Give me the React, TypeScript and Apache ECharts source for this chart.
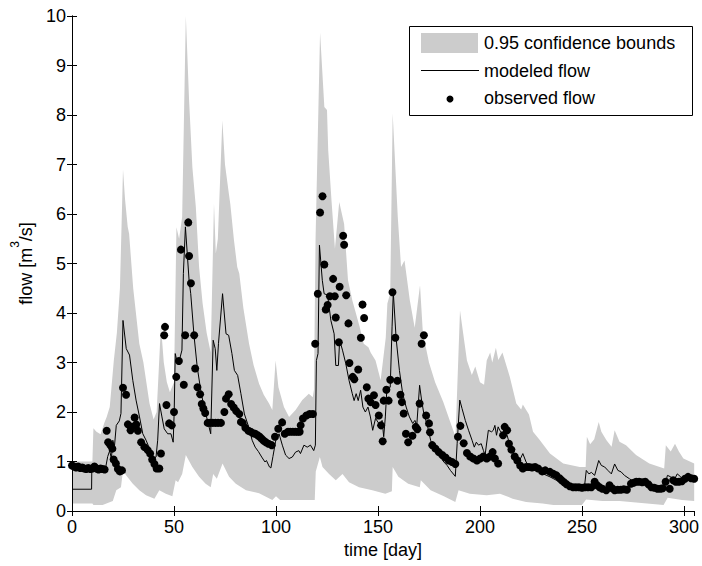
import React, { useEffect, useRef } from 'react';
import * as echarts from 'echarts';

const FONT = '"Liberation Sans", Arial, sans-serif';

const xAxisTicks = [0, 50, 100, 150, 200, 250, 300];
const yAxisTicks = [0, 1, 2, 3, 4, 5, 6, 7, 8, 9, 10];

const legendLabels = ['0.95 confidence bounds', 'modeled flow', 'observed flow'];

// upper 0.95 confidence bound [day, flow]
const upperBound: number[][] = [
  [0, 1.0], [10, 1.0], [10.5, 1.67], [12, 1.6], [14, 1.55], [16, 1.8], [17, 1.9], [18.5, 2.1], [20.5, 3.04],
  [22, 3.6], [23.5, 4.5], [25, 6.9], [26, 6.3], [27.3, 5.74], [28, 5.6], [30, 4.5], [33, 3.38], [35, 3.0],
  [38, 2.17], [40, 1.85], [41.5, 2.0], [43.6, 3.75], [45, 3.0], [46.5, 2.6], [48, 2.4], [50, 2.6], [51.2, 5.73],
  [52.5, 5.5], [54, 5.94], [55.8, 10.0], [57.4, 8.3], [59, 6.95], [60.7, 6.14], [62.3, 4.93], [64, 4.2],
  [66, 3.6], [68, 3.2], [69.6, 6.21], [70.5, 5.2], [71.5, 5.5], [73.7, 7.89], [75, 7.0], [76.9, 6.41],
  [77.6, 6.2], [79.4, 5.47], [81, 4.93], [82, 4.8], [84, 4.1], [86.8, 3.38], [89, 2.95], [91.7, 2.57],
  [94, 2.35], [96.6, 2.17], [98.2, 2.04], [99.8, 3.04], [101.2, 2.5], [103.9, 2.1], [106.4, 1.9],
  [109.6, 2.04], [112.9, 2.24], [116.1, 2.37], [118, 2.3], [118.6, 2.45], [119.4, 5.5], [121.6, 9.66],
  [123.7, 8.16], [125, 8.1], [125.6, 7.29], [127.2, 6.28], [128.9, 5.3], [131, 6.24], [133.4, 5.8],
  [135.3, 4.66], [137.4, 4.26], [139.2, 3.99], [141, 3.72], [143, 3.38], [145.3, 3.31], [146.4, 3.2],
  [148.8, 3.04], [151.3, 2.64], [153.8, 3.5], [154.6, 4.19], [156, 4.4], [157.2, 8.03], [159.7, 5.94],
  [161.3, 4.93], [163, 5.06], [165.6, 4.26], [168, 3.7], [170.6, 4.56], [172, 3.6], [175, 3.0], [178, 2.6],
  [182, 2.2], [185, 1.85], [188, 1.5], [190.2, 4.05], [193.6, 3.04], [196, 2.75], [197.7, 2.92], [200, 2.6],
  [202, 2.55], [203.3, 3.04], [205, 3.2], [206, 3.0], [207.8, 3.3], [209, 3.05], [211, 3.2], [214.6, 2.71],
  [217.8, 2.17], [220.2, 2.05], [221, 2.15], [224, 1.95], [226, 1.6], [229, 1.45], [234.3, 1.16],
  [240.8, 0.96], [248.9, 0.89], [251.8, 0.89], [252.4, 1.5], [254, 1.35], [256, 1.45], [258.2, 1.8],
  [259.5, 1.6], [262, 1.43], [264.5, 1.3], [266, 1.63], [268.4, 1.4], [271.6, 1.33], [276.5, 1.13],
  [283, 0.96], [290.3, 0.86], [291.1, 1.33], [293.5, 1.2], [295.6, 1.36], [297.5, 1.2], [299.7, 1.06],
  [305, 0.96],
];

// lower 0.95 confidence bound [day, flow]
const lowerBound: number[][] = [
  [0, 0.15], [10, 0.15], [10.5, 0.12], [15, 0.12], [20, 0.2], [21.7, 0.42], [24, 0.48], [25, 0.82],
  [26.5, 0.72], [29.8, 0.55], [33, 0.42], [36.3, 0.32], [40.4, 0.25], [42.8, 0.42], [46, 0.35], [49.2, 0.3],
  [50.8, 0.62], [52, 0.58], [54, 0.75], [55.8, 1.13], [59, 0.89], [62.3, 0.69], [65.5, 0.55], [68, 0.48],
  [69.2, 0.75], [71, 0.65], [73.8, 0.96], [77, 0.69], [80.3, 0.55], [85.3, 0.42], [91.7, 0.36], [98.2, 0.22],
  [100, 0.3], [102, 0.22], [108, 0.22], [119, 0.22], [119.5, 0.8], [121.5, 1.09], [122.8, 0.89], [126, 0.75],
  [129.3, 0.62], [132.6, 0.75], [135.8, 0.58], [140.7, 0.48], [147.2, 0.42], [153.6, 0.35], [156.8, 0.4],
  [157.2, 0.89], [160, 0.69], [164.8, 0.55], [170.5, 0.48], [171, 0.62], [175.8, 0.42], [182.3, 0.3],
  [187.9, 0.18], [189.5, 0.42], [195, 0.35], [203.3, 0.32], [209.8, 0.35], [216, 0.25], [222.6, 0.18],
  [230.7, 0.15], [236, 0.12], [250, 0.12], [252, 0.23], [260, 0.2], [268.4, 0.2], [276.5, 0.17], [290, 0.12],
  [292, 0.27], [299, 0.22], [305, 0.2],
];

// modeled flow [day, flow]
const modeledFlow: number[][] = [
  [0, 0.44], [9.6, 0.44], [9.7, 0.81], [11, 0.85], [13, 0.87], [15, 0.86], [16.5, 0.88], [17.5, 1.1],
  [18.5, 1.22], [19.3, 1.05], [20, 1.43], [20.8, 1.3], [21.7, 1.73], [23.2, 1.82], [24, 1.97], [25, 3.85],
  [26.6, 3.28], [28.2, 3.15], [29.8, 2.64], [31.4, 2.24], [33.1, 1.9], [34.7, 1.56], [36.3, 1.43], [38, 1.26],
  [39.6, 1.06], [41.2, 1.09], [42, 1.43], [42.9, 2.17], [44.1, 1.9], [45.2, 1.66], [46.9, 1.56], [48.5, 1.56],
  [49.6, 1.39], [50.1, 2.0], [50.6, 3.18], [51.7, 2.98], [52.6, 3.04], [53.9, 3.25], [54.6, 4.8], [55.6, 5.74],
  [57.4, 4.66], [58.2, 4.39], [59.8, 3.55], [61.4, 2.9], [63.1, 2.44], [64.7, 2.1], [66.4, 1.83], [68, 1.56],
  [69.2, 3.45], [70.2, 3.28], [71, 2.84], [71.8, 3.38], [73.8, 4.39], [75.5, 3.58], [76.8, 3.55], [78.4, 3.18],
  [79.6, 2.84], [81.2, 2.74], [82.8, 2.37], [84.5, 1.96], [86.6, 1.7], [88.3, 1.43], [89.8, 1.29], [91.4, 1.2],
  [93, 1.09], [94.6, 0.99], [95.3, 1.02], [96.8, 0.89], [97.5, 0.87], [98.5, 1.1], [99.9, 1.43], [101.5, 1.56],
  [103.1, 1.33], [104.7, 1.13], [106.4, 1.06], [108, 1.09], [109.6, 1.19], [111.2, 1.22], [112, 1.16],
  [113.7, 1.33], [115.3, 1.29], [116.9, 1.33], [118.5, 1.22], [119.3, 1.33], [119.8, 3.04], [120.6, 3.18],
  [121.3, 5.37], [122.7, 4.66], [123.6, 4.39], [125.3, 4.36], [126.9, 3.85], [128.5, 3.58], [129.3, 2.94],
  [130.6, 2.94], [131.2, 3.45], [132.6, 3.25], [134.2, 2.98], [135.8, 2.64], [137.4, 2.37], [138.3, 2.23],
  [139.3, 2.37], [140.3, 2.23], [141.5, 2.44], [142.6, 2.1], [143.8, 2.0], [145.1, 2.1], [146.3, 1.9],
  [147.4, 1.63], [148.8, 1.87], [150.4, 1.77], [151.2, 1.7], [152, 1.83], [152.8, 1.5], [153.6, 1.9],
  [154.4, 2.5], [156, 2.5], [156.9, 3.72], [157.5, 4.42], [158.9, 3.48], [160.5, 2.84], [162.1, 2.37],
  [163.8, 2.1], [165.4, 1.9], [167, 1.77], [168.1, 1.83], [169, 1.73], [170.4, 2.54], [171.4, 2.23],
  [172.5, 1.96], [174.2, 1.73], [175.8, 1.43], [177.4, 1.22], [179, 1.16], [180.7, 1.08], [182.3, 0.99],
  [183.9, 0.92], [185.5, 0.82], [187.9, 0.7], [188.8, 1.36], [190.1, 2.24], [191.2, 2.07], [192.8, 1.83],
  [194.4, 1.63], [196.1, 1.43], [197.2, 1.29], [198.2, 1.39], [199.3, 1.33], [200.6, 1.36], [201.7, 1.22],
  [202.5, 1.13], [204.1, 1.63], [205.7, 1.6], [206.5, 1.63], [207.3, 1.73], [208.1, 1.53], [208.9, 1.7],
  [209.7, 1.63], [211, 1.56], [212.1, 1.66], [213.3, 1.53], [214.6, 1.33], [216.2, 1.19], [217.8, 1.09],
  [219.4, 1.02], [221, 1.16], [222.6, 0.99], [224.3, 0.89], [227.5, 0.82], [231, 0.75], [234.3, 0.69],
  [237.5, 0.62], [240.8, 0.57], [244, 0.52], [251.3, 0.52], [252.1, 0.82], [253.4, 0.75], [254.6, 0.78],
  [256.2, 0.72], [258.2, 1.02], [259.5, 0.92], [261.1, 0.89], [262.7, 0.82], [264.4, 0.75], [266, 0.95],
  [267.6, 0.82], [269.2, 0.79], [270.8, 0.72], [273.3, 0.65], [275.7, 0.59], [279.7, 0.55], [284.6, 0.5],
  [290.3, 0.48], [291.9, 0.72], [293.5, 0.69], [295.1, 0.62], [296.7, 0.75], [298.4, 0.69], [300, 0.62],
  [302.4, 0.69], [304.9, 0.62],
];

// observed flow [day, flow]
const observedFlow: number[][] = [
  [0, 0.92], [1, 0.9], [2, 0.88], [3, 0.9], [4, 0.87], [5, 0.88], [6, 0.86], [7, 0.85], [8, 0.87], [9, 0.85],
  [10, 0.86], [11, 0.9], [12, 0.86], [13, 0.84], [14, 0.86], [15, 0.85], [16, 0.84], [17, 1.62], [17.7, 1.39],
  [18.8, 1.33], [19.8, 1.26], [20.4, 1.04], [21.5, 0.96], [22.5, 0.85], [23.5, 0.8], [24.5, 0.82], [25, 2.49],
  [26.5, 2.35], [27.4, 1.75], [28.7, 1.63], [29.5, 1.7], [30.7, 1.89], [31.5, 1.75], [32.3, 1.62], [33.9, 1.39],
  [35.5, 1.29], [37.1, 1.23], [38.3, 1.16], [39.3, 1.04], [40.4, 0.95], [41.5, 0.86], [42.8, 0.86], [43.6, 1.16],
  [45.2, 3.55], [45.6, 3.72], [46.3, 2.14], [47.6, 1.77], [48.9, 1.73], [50, 2.0], [51.1, 2.71], [52.4, 3.03],
  [53.4, 5.28], [54.8, 2.55], [55.5, 3.55], [57, 5.83], [57.4, 5.15], [58.3, 4.6], [59.9, 3.55], [60.4, 2.88],
  [61.5, 2.5], [62.8, 2.36], [63.6, 2.16], [64.4, 2.07], [65.3, 1.98], [66.5, 1.78], [67.7, 1.78], [69, 1.78],
  [70.3, 1.78], [71.6, 1.78], [73, 1.78], [74.7, 2.0], [75.5, 2.27], [76.8, 2.36], [78, 2.16], [79.3, 2.09],
  [80.5, 2.02], [82, 1.96], [82.8, 1.8], [83.7, 1.78], [85, 1.68], [86.5, 1.62], [87.6, 1.6], [88.8, 1.57],
  [89.8, 1.56], [91, 1.53], [92, 1.5], [93, 1.46], [94, 1.42], [95, 1.39], [96.3, 1.36], [97.9, 1.33],
  [99.5, 1.5], [101.1, 1.66], [103, 1.79], [104.3, 1.56], [105.9, 1.6], [107, 1.6], [108.3, 1.6], [109.5, 1.6],
  [110.6, 1.6], [111.6, 1.6], [112.1, 1.73], [113.2, 1.87], [114.9, 1.93], [116.5, 1.96], [118.1, 1.96],
  [119.2, 3.38], [120.5, 4.39], [121.6, 6.03], [122.8, 6.36], [123.7, 4.98], [124.4, 4.07], [125.3, 4.16],
  [126.4, 4.34], [128, 4.69], [128.8, 4.34], [129.3, 3.91], [130.8, 3.41], [131.2, 4.53], [132.9, 5.56],
  [133.4, 5.38], [134.4, 4.36], [135.5, 3.79], [136, 2.99], [137.6, 2.71], [138.4, 2.66], [140.3, 2.86],
  [141.6, 3.5], [142.4, 4.17], [143.2, 3.9], [144.5, 2.5], [145.3, 2.27], [146.4, 2.2], [148, 2.34],
  [148.8, 2.14], [150.4, 1.93], [151.5, 1.73], [152.3, 1.41], [152.8, 2.23], [154.1, 2.45], [155.2, 2.23],
  [156, 2.65], [157.1, 4.42], [158.5, 3.5], [159.5, 2.63], [161, 2.35], [161.7, 2.2], [162.6, 1.97],
  [163.7, 1.56], [164.8, 1.39], [166.9, 1.52], [168.5, 1.7], [169.3, 1.65], [170.4, 2.17], [171.4, 3.38],
  [172.5, 3.55], [173.6, 1.93], [175, 1.77], [175.5, 1.59], [176.6, 1.33], [178.2, 1.26], [179.8, 1.19],
  [181.5, 1.13], [183.1, 1.08], [184.7, 1.02], [186.3, 0.99], [187.9, 0.95], [189.2, 1.5], [190.4, 1.72],
  [192, 1.37], [193.6, 1.17], [195.2, 1.1], [196.8, 1.06], [198.5, 1.02], [200.1, 1.06], [201.7, 1.1],
  [203.3, 1.06], [204.9, 1.1], [206.2, 1.19], [207.3, 1.06], [208.9, 0.96], [211.3, 1.53], [212.1, 1.7],
  [213.3, 1.63], [214.2, 1.36], [215.4, 1.24], [217, 1.1], [218.3, 1.02], [219.7, 0.92], [221, 0.86],
  [222.6, 0.89], [224, 0.89], [225.5, 0.88], [227, 0.89], [228.5, 0.86], [230.5, 0.8], [232, 0.82],
  [234.3, 0.79], [236, 0.75], [237.5, 0.72], [239, 0.66], [240, 0.62], [241.2, 0.58], [242.4, 0.54],
  [244, 0.5], [245.6, 0.48], [247, 0.48], [248.5, 0.48], [250, 0.47], [251.5, 0.48], [253, 0.48],
  [254.6, 0.48], [256.2, 0.59], [257.4, 0.52], [258.6, 0.48], [260, 0.45], [261.9, 0.42], [263.5, 0.52],
  [264.8, 0.46], [266, 0.42], [267.5, 0.43], [269, 0.43], [270.5, 0.44], [272, 0.43], [274, 0.55],
  [275.3, 0.57], [276.6, 0.59], [278, 0.59], [279.5, 0.58], [281, 0.59], [282.5, 0.54], [284, 0.48],
  [285.5, 0.47], [287, 0.45], [288.5, 0.45], [289.6, 0.46], [291, 0.59], [293, 0.45], [294.7, 0.62],
  [296, 0.59], [297.5, 0.59], [299, 0.6], [300.5, 0.65], [302, 0.69], [303.5, 0.66], [305, 0.65],
];

const X_MIN = 0;
const X_MAX = 305;
const Y_MIN = 0;
const Y_MAX = 10;

export default function App() {
  const ref = useRef<HTMLDivElement>(null);

  useEffect(() => {
    if (!ref.current) return;
    const chart = echarts.init(ref.current, undefined, { renderer: 'svg' });

    const axisLine = { show: true, lineStyle: { color: '#000', width: 1 } };
    const tickStyle = { show: true, inside: true, length: 5, lineStyle: { color: '#000', width: 1 } };
    const labelStyle = { color: '#000', fontSize: 18, fontFamily: FONT };

    const baseX = {
      type: 'value' as const,
      min: X_MIN,
      max: X_MAX,
      interval: 50,
      splitLine: { show: false },
      axisLine,
      axisTick: tickStyle,
      z: 10,
    };
    const baseY = {
      type: 'value' as const,
      min: Y_MIN,
      max: Y_MAX,
      interval: 1,
      splitLine: { show: false },
      axisLine,
      axisTick: tickStyle,
      z: 10,
    };

    const option: any = {
      animation: false,
      backgroundColor: '#fff',
      grid: { left: 72, right: 5, top: 16, bottom: 55, containLabel: false },
      xAxis: [
        {
          ...baseX,
          position: 'bottom',
          name: 'time [day]',
          nameLocation: 'middle',
          nameGap: 28,
          nameTextStyle: { ...labelStyle, verticalAlign: 'top' },
          axisLabel: {
            ...labelStyle,
            margin: 7,
            showMaxLabel: false,
            formatter: (v: number) => (xAxisTicks.includes(v) ? String(v) : ''),
          },
        },
        {
          ...baseX,
          position: 'top',
          axisLabel: { show: false },
        },
      ],
      yAxis: [
        {
          ...baseY,
          position: 'left',
          name: '{a|flow [m}{b|3}{a|/s]}',
          nameLocation: 'middle',
          nameRotate: 90,
          nameGap: 32,
          nameTextStyle: {
            rich: {
              a: { fontSize: 18, fontFamily: FONT, color: '#000', lineHeight: 26, verticalAlign: 'bottom' },
              b: { fontSize: 12, fontFamily: FONT, color: '#000', lineHeight: 12, verticalAlign: 'top' },
            },
          },
          axisLabel: {
            ...labelStyle,
            margin: 6,
            formatter: (v: number) => (yAxisTicks.includes(v) ? String(v) : ''),
          },
        },
        {
          ...baseY,
          position: 'right',
          axisLabel: { show: false },
        },
      ],
      series: [
        {
          type: 'custom',
          name: legendLabels[0],
          clip: true,
          silent: true,
          data: [[X_MIN, Y_MIN]],
          renderItem: (params: any, api: any) => {
            if (params.dataIndex !== 0) return null;
            const pts: number[][] = upperBound.map((p) => api.coord(p));
            for (let i = lowerBound.length - 1; i >= 0; i--) pts.push(api.coord(lowerBound[i]));
            return {
              type: 'polygon',
              shape: { points: pts },
              style: { fill: '#cccccc', stroke: 'none' },
            };
          },
          z: 1,
        },
        {
          type: 'line',
          name: legendLabels[1],
          data: modeledFlow,
          showSymbol: false,
          symbol: 'none',
          lineStyle: { color: '#000', width: 1 },
          z: 3,
        },
        {
          type: 'scatter',
          name: legendLabels[2],
          data: observedFlow,
          symbol: 'circle',
          symbolSize: 8,
          itemStyle: { color: '#000', opacity: 1 },
          z: 4,
        },
      ],
      graphic: [
        {
          type: 'group',
          z: 100,
          children: [
            {
              type: 'rect',
              shape: { x: 409.5, y: 26.5, width: 283, height: 89 },
              style: { fill: '#fff', stroke: '#000', lineWidth: 1 },
            },
            {
              type: 'rect',
              shape: { x: 421, y: 33, width: 57, height: 20 },
              style: { fill: '#cccccc' },
            },
            {
              type: 'line',
              shape: { x1: 421, y1: 70.5, x2: 479, y2: 70.5 },
              style: { stroke: '#000', lineWidth: 1 },
            },
            {
              type: 'circle',
              shape: { cx: 450, cy: 99, r: 3.5 },
              style: { fill: '#000' },
            },
            {
              type: 'text',
              x: 484,
              y: 43,
              style: { text: legendLabels[0], fontSize: 18, fontFamily: FONT, fill: '#000', verticalAlign: 'middle' },
            },
            {
              type: 'text',
              x: 484,
              y: 71,
              style: { text: legendLabels[1], fontSize: 18, fontFamily: FONT, fill: '#000', verticalAlign: 'middle' },
            },
            {
              type: 'text',
              x: 484,
              y: 98,
              style: { text: legendLabels[2], fontSize: 18, fontFamily: FONT, fill: '#000', verticalAlign: 'middle' },
            },
          ],
        },
      ],
    };

    chart.setOption(option);
    return () => {
      chart.dispose();
    };
  }, []);

  return (
    <div
      ref={ref}
      style={{ position: 'fixed', left: 0, top: 0, width: 702, height: 566, background: '#fff' }}
    />
  );
}
